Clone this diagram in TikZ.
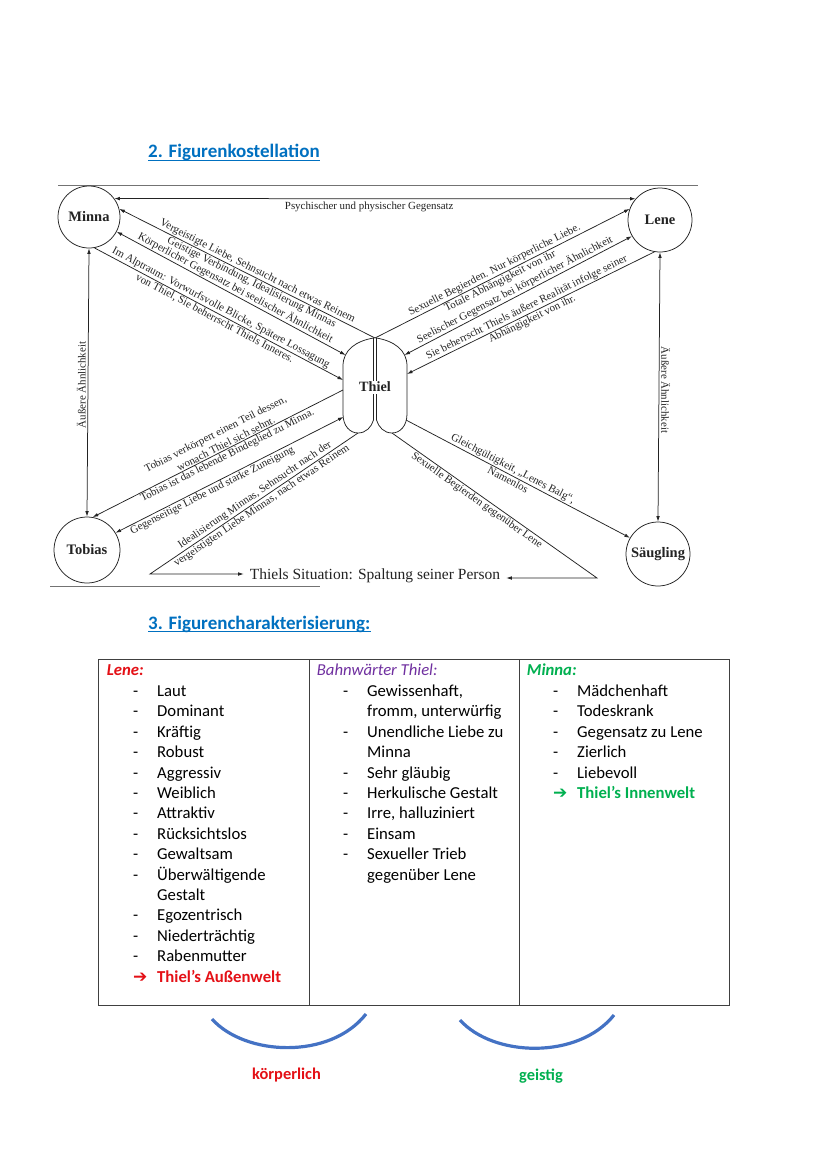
\documentclass[tikz,border=0pt]{standalone}
\usepackage{fontspec}
\setmainfont{Liberation Serif}
\newfontfamily\calib{Carlito}
\newfontfamily\dejav{DejaVu Sans}
\usetikzlibrary{arrows.meta}
\definecolor{tblue}{RGB}{0,112,192}
\definecolor{tred}{RGB}{228,16,22}
\definecolor{tpurple}{RGB}{112,48,160}
\definecolor{tgreen}{RGB}{0,176,80}
\definecolor{arcblue}{RGB}{68,114,196}
\definecolor{ink}{RGB}{35,35,35}
\newcommand\dsh{\makebox[24pt][l]{-}}
\newcommand\arw{\makebox[24pt][l]{{\dejav\bfseries\fontsize{17}{18}\selectfont ➔}}}
\begin{document}
\begin{tikzpicture}[x=1pt,y=-1pt,
 con/.style={draw=ink,line width=0.75pt},
 toend/.style={-{Latex[length=5.5pt,width=3.6pt]}},
 tostart/.style={{Latex[length=5.5pt,width=3.6pt]}-},
 twoway/.style={{Latex[length=5.5pt,width=3.6pt]}-{Latex[length=5.5pt,width=3.6pt]}},
 person/.style={circle,draw=ink,line width=0.75pt,minimum size=#1,inner sep=0pt,text=ink,font=\fontsize{14.5}{16}\selectfont\bfseries},
 person/.default=64pt,
 lbl/.style={text=ink,inner sep=1pt,font=\fontsize{10.9}{12}\selectfont},
 tx/.style={anchor=base west,inner sep=0pt,font=\calib\fontsize{16.7}{20}\selectfont},
 ttl/.style={anchor=base west,inner sep=0pt,text=tblue,font=\calib\bfseries\fontsize{19}{22}\selectfont},
]
\useasboundingbox (0,0) rectangle (828,1171);
\fill[white] (0,0) rectangle (828,1171);

% ---------- titles ----------
\node[ttl] (ttlA) at (148,157.5) {2. Figurenkostellation};
\draw[tblue,line width=1.1pt] ([yshift=-2.8pt]ttlA.base west) -- ([yshift=-2.8pt]ttlA.base east);
\node[ttl] (ttlB) at (148,629) {3. Figurencharakterisierung:};
\draw[tblue,line width=1.1pt] ([yshift=-2.8pt]ttlB.base west) -- ([yshift=-2.8pt]ttlB.base east);

% ---------- scan borders ----------
\draw[black!55,line width=0.8pt] (58,185) -- (698,185);
\draw[black!55,line width=0.8pt] (50,586) -- (320,586);

% ---------- persons ----------
\node[person=62pt] (minna) at (89,217) {Minna};
\node[person=64pt] (lene) at (660,220) {Lene};
\node[person=66pt] (tobias) at (87,550) {Tobias};
\node[person=64pt] (saeug) at (658,554) {Säugling};

% Thiel (two lobes)
\draw[con] (373.5,338) .. controls (356,341) and (343,350) .. (343,366) -- (343,414)
  .. controls (343,426) and (350,433) .. (358,433) .. controls (366,433) and (371.5,427) .. (373.5,420) -- cycle;
\draw[con] (376.5,338) .. controls (394,341) and (407,350) .. (407,366) -- (407,414)
  .. controls (407,426) and (400,433) .. (392,433) .. controls (384,433) and (378.5,427) .. (376.5,420) -- cycle;
\node[fill=white,inner sep=1.5pt,text=ink,font=\fontsize{14.2}{16}\selectfont\bfseries] (thiel) at (375,387) {Thiel};

\coordinate (tTop) at (375,338);
\coordinate (tMl) at (345.5,355);
\coordinate (tL1) at (343,380);
\coordinate (tL2) at (343,390);
\coordinate (tL3) at (343.5,417);
\coordinate (tBl) at (358,433);
\coordinate (tMr) at (404.5,355);
\coordinate (tR1) at (407,374);
\coordinate (tR3) at (406,420);
\coordinate (tBr) at (392,433);
\coordinate (fL) at (150,574);
\coordinate (fR) at (597,578);

\node[inner xsep=6pt,inner ysep=2pt,text=ink,font=\fontsize{15.5}{17}\selectfont] (sit) at (375,576) {Thiels Situation: Spaltung seiner Person};

% ---------- connectors ----------
\draw[con,twoway] (minna.36) -- node[lbl,below,inner ysep=3pt,pos=0.489] (psy) {Psychischer und physischer Gegensatz} (lene.139);

\draw[con,tostart] (minna.15) --
  node[lbl,sloped,above,pos=0.529] (v1) {Vergeistigte Liebe, Sehnsucht nach etwas Reinem}
  node[lbl,sloped,below,pos=0.528] (v2) {Geistige Verbindung, Idealisierung Minnas} (tTop);
\draw[con,twoway] (minna.-28) --
  node[lbl,sloped,above,pos=0.505] (v3) {Körperlicher Gegensatz bei seelischer Ähnlichkeit} (tMl);
\draw[con,toend] (minna.-80) --
  node[lbl,sloped,above,pos=0.497] (v4) {Im Alptraum: Vorwurfsvolle Blicke, Spätere Lossagung}
  node[lbl,sloped,below,pos=0.495] (v5) {von Thiel, Sie beherrscht Thiels Inneres.} (tL1);

\draw[con,toend] (tTop) --
  node[lbl,sloped,above,pos=0.481] (s1) {Sexuelle Begierden. Nur körperliche Liebe.}
  node[lbl,sloped,below,pos=0.481] (s2) {Totale Abhängigkeit von ihr} (lene.160);
\draw[con,twoway] (tMr) --
  node[lbl,sloped,above,pos=0.499] (s3) {Seelischer Gegensatz bei körperlicher Ähnlichkeit} (lene.210);
\draw[con,tostart] (tR1) --
  node[lbl,sloped,above,pos=0.496] (s4) {Sie beherrscht Thiels äußere Realität infolge seiner}
  node[lbl,sloped,below,pos=0.495] (s5) {Abhängigkeit von ihr.} (lene.-100);

\draw[con,twoway] (minna.south) -- node[lbl,rotate=90,anchor=south,inner sep=2pt,pos=0.509] (aeL) {Äußere Ähnlichkeit} (tobias.north);
\draw[con,twoway] (lene.south) -- node[lbl,rotate=-90,anchor=south,inner sep=2pt,pos=0.511] (aeR) {Äußere Ähnlichkeit} (saeug.north);

\draw[con,tostart] (tobias.80) --
  node[lbl,sloped,above,inner ysep=12.5pt,pos=0.524] (tb1) {Tobias verkörpert einen Teil dessen,}
  node[lbl,sloped,above,pos=0.541] (tb2) {wonach Thiel sich sehnt.}
  node[lbl,sloped,below,pos=0.527] (tb3) {Tobias ist das lebende Bindeglied zu Minna.} (tL2);
\draw[con,twoway] (tobias.31) --
  node[lbl,sloped,below,pos=0.412] (tb4) {Gegenseitige Liebe und starke Zuneigung} (tL3);
\draw[con,tostart] (sit.west |- fL) -- (fL) --
  node[lbl,sloped,above,pos=0.522] (f1) {Idealisierung Minnas, Sehnsucht nach der}
  node[lbl,sloped,below,pos=0.52] (f2) {vergeistigten Liebe Minnas, nach etwas Reinem} (tBl);

\draw[con,toend] (tR3) --
  node[lbl,sloped,above,pos=0.463] (g1) {Gleichgültigkeit, „Lenes Balg“,}
  node[lbl,sloped,below,pos=0.467] (g2) {Namenlos} (saeug.150);
\draw[con,toend] (tBr) --
  node[lbl,sloped,below,pos=0.431] (h1) {Sexuelle Begierden gegenüber Lene} (fR) -- (sit.east |- fR);

% ---------- table ----------
\draw[black!75,line width=0.9pt] (98,659) rectangle (729,1005);
\draw[black!75,line width=0.9pt] (309,659) -- (309,1005);
\draw[black!75,line width=0.9pt] (519,659) -- (519,1005);

\node[tx,text=tred,font=\calib\bfseries\itshape\fontsize{16.7}{20}\selectfont] (hLe) at (106.7,675) {Lene:};
\node[tx,text=tpurple,font=\calib\itshape\fontsize{16.7}{20}\selectfont] (hTh) at (316.7,675) {Bahnwärter Thiel:};
\node[tx,text=tgreen,font=\calib\bfseries\itshape\fontsize{16.7}{20}\selectfont] (hMi) at (526.7,675) {Minna:};

\node[tx] (le1) at (133,696.5) {\dsh Laut};
\node[tx] (le2) at (133,716.9) {\dsh Dominant};
\node[tx] (le3) at (133,737.3) {\dsh Kräftig};
\node[tx] (le4) at (133,757.7) {\dsh Robust};
\node[tx] (le5) at (133,778.1) {\dsh Aggressiv};
\node[tx] (le6) at (133,798.5) {\dsh Weiblich};
\node[tx] (le7) at (133,818.9) {\dsh Attraktiv};
\node[tx] (le8) at (133,839.3) {\dsh Rücksichtslos};
\node[tx] (le9) at (133,859.7) {\dsh Gewaltsam};
\node[tx] (le10) at (133,880.1) {\dsh Überwältigende};
\node[tx] (le11) at (157,900.5) {Gestalt};
\node[tx] (le12) at (133,920.9) {\dsh Egozentrisch};
\node[tx] (le13) at (133,941.3) {\dsh Niederträchtig};
\node[tx] (le14) at (133,961.7) {\dsh Rabenmutter};
\node[tx,text=tred,font=\calib\bfseries\fontsize{16.7}{20}\selectfont] (le15) at (133,982.1) {\arw Thiel’s Außenwelt};

\node[tx] (th1) at (343,696.5) {\dsh Gewissenhaft,};
\node[tx] (th2) at (367,716.9) {fromm, unterwürfig};
\node[tx] (th3) at (343,737.3) {\dsh Unendliche Liebe zu};
\node[tx] (th4) at (367,757.7) {Minna};
\node[tx] (th5) at (343,778.1) {\dsh Sehr gläubig};
\node[tx] (th6) at (343,798.5) {\dsh Herkulische Gestalt};
\node[tx] (th7) at (343,818.9) {\dsh Irre, halluziniert};
\node[tx] (th8) at (343,839.3) {\dsh Einsam};
\node[tx] (th9) at (343,859.7) {\dsh Sexueller Trieb};
\node[tx] (th10) at (367,880.1) {gegenüber Lene};

\node[tx] (mi1) at (553,696.5) {\dsh Mädchenhaft};
\node[tx] (mi2) at (553,716.9) {\dsh Todeskrank};
\node[tx] (mi3) at (553,737.3) {\dsh Gegensatz zu Lene};
\node[tx] (mi4) at (553,757.7) {\dsh Zierlich};
\node[tx] (mi5) at (553,778.1) {\dsh Liebevoll};
\node[tx,text=tgreen,font=\calib\bfseries\fontsize{16.7}{20}\selectfont] (mi6) at (553,798.5) {\arw Thiel’s Innenwelt};

% ---------- arcs ----------
\draw[arcblue,line width=3.2pt] (212,1019) .. controls (245,1056) and (330,1060) .. (366,1014);
\draw[arcblue,line width=3.2pt] (460,1020) .. controls (493,1057) and (578,1060) .. (614,1015);
\node[text=tred,inner sep=0pt,font=\calib\bfseries\fontsize{16.4}{18}\selectfont] (koerp) at (286.5,1075) {körperlich};
\node[text=tgreen,inner sep=0pt,font=\calib\bfseries\fontsize{16.4}{18}\selectfont] (geist) at (541,1076) {geistig};
\end{tikzpicture}
\end{document}
